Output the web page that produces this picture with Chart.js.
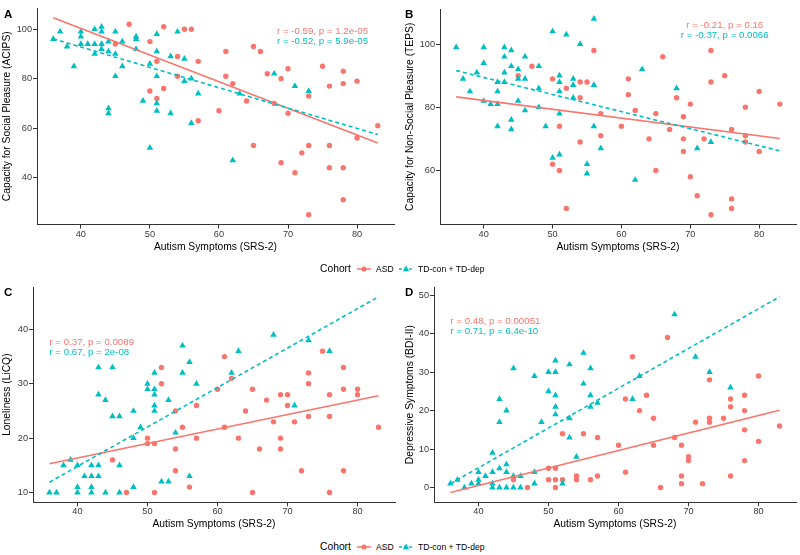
<!DOCTYPE html>
<html>
<head>
<meta charset="utf-8">
<script src="https://cdn.jsdelivr.net/npm/chart.js@4.4.0/dist/chart.umd.min.js"></script>
<style>
  body { margin: 0; background: #fff; width: 800px; height: 555px; position: relative; overflow: hidden; font-family: "Liberation Sans", Arial, sans-serif; }
  .panel { position: absolute; }
  .tag { position: absolute; font-weight: bold; font-size: 11.5px; line-height: 12px; color: #000; }
  .legend { position: absolute; left: 0; width: 800px; height: 14px; }
  .legend span, .legend svg { position: absolute; top: 0; }
  .legend .ttl { font-size: 10.3px; line-height: 14px; color: #000; }
  .legend .lab { font-size: 8.6px; line-height: 14px; color: #000; }
</style>
</head>
<body>
<div class="panel" style="left:0;top:0"><canvas id="chartA" width="400" height="258"></canvas></div>
<div class="panel" style="left:400px;top:0"><canvas id="chartB" width="400" height="258"></canvas></div>
<div class="panel" style="left:0;top:275px"><canvas id="chartC" width="400" height="260"></canvas></div>
<div class="panel" style="left:400px;top:275px"><canvas id="chartD" width="400" height="260"></canvas></div>

<div class="tag" style="left:4px;top:8px">A</div>
<div class="tag" style="left:405px;top:8px">B</div>
<div class="tag" style="left:4px;top:286px">C</div>
<div class="tag" style="left:405px;top:286px">D</div>

<div class="legend" style="top:262px">
  <span class="ttl" style="left:320px">Cohort</span>
  <svg style="left:357px" width="14" height="14"><line x1="0" y1="7" x2="14" y2="7" stroke="#F8766D" stroke-width="1.5"/><circle cx="7" cy="7" r="2.6" fill="#F8766D"/></svg>
  <span class="lab" style="left:376px">ASD</span>
  <svg style="left:399px" width="14" height="14"><line x1="0" y1="7" x2="14" y2="7" stroke="#00BFC4" stroke-width="1.5" stroke-dasharray="3,2"/><polygon points="7,3.6 10.2,9.2 3.8,9.2" fill="#00BFC4"/></svg>
  <span class="lab" style="left:418px">TD-con + TD-dep</span>
</div>
<div class="legend" style="top:540px">
  <span class="ttl" style="left:320px">Cohort</span>
  <svg style="left:357px" width="14" height="14"><line x1="0" y1="7" x2="14" y2="7" stroke="#F8766D" stroke-width="1.5"/><circle cx="7" cy="7" r="2.6" fill="#F8766D"/></svg>
  <span class="lab" style="left:376px">ASD</span>
  <svg style="left:399px" width="14" height="14"><line x1="0" y1="7" x2="14" y2="7" stroke="#00BFC4" stroke-width="1.5" stroke-dasharray="3,2"/><polygon points="7,3.6 10.2,9.2 3.8,9.2" fill="#00BFC4"/></svg>
  <span class="lab" style="left:418px">TD-con + TD-dep</span>
</div>

<script>
// colores de ggplot
const ASD_COL = '#F8766D';
const TD_COL = '#00BFC4';

const xTicks = [40, 50, 60, 70, 80];
const fitX = [36, 83];

// A - ACIPS
const asdXA = [45,47,50,50,51,51,52,52,54,54,55,56,57,57,60,61,61,62,64,65,65,66,67,68,69,69,70,70,71,72,73,73,73,75,76,76,76,78,78,78,78,80,80,83];
const asdYA = [94,102,95,75,87,72,101,76,89,81,100,100,87,63,67,91,81,78,71,93,53,91,82,70,80,46,84,66,42,50,73,53,25,85,77,53,44,83,78,44,31,79,56,61];
const tdXA = [36,37,38,39,40,40,40,41,42,42,42,43,43,43,43,44,44,44,44,45,45,45,46,46,48,48,48,49,50,50,51,51,51,51,51,53,53,54,55,55,56,56,57,62,63,68,71,73];
const tdYA = [96,99,93,85,99,97,94,94,100,94,90,101,99,94,92,95,91,68,66,99,90,81,95,85,97,96,92,71,86,52,98,91,81,70,67,89,66,99,88,79,62,80,74,47,74,82,77,75];
const fitAsdA = [104.6, 54.0];
const fitTdA = [96.1, 57.4];
const yTicksA = [40, 60, 80, 100];
const corA = ['r = -0.59, p = 1.2e-05', 'r = -0.52, p = 5.9e-05'];

// B - TEPS
const asdXB = [45,47,50,50,51,51,52,52,54,54,54,55,56,57,57,60,61,61,62,64,65,65,66,67,68,69,69,69,70,70,71,72,73,73,73,75,76,76,76,78,78,78,80,80,83];
const asdYB = [90,93,89,62,74,60,86,48,88,83,69,88,98,78,71,74,89,84,79,70,78,60,96,73,83,77,70,66,81,58,52,70,98,88,46,90,73,51,48,80,71,69,85,66,81];
const tdXB = [36,37,38,39,40,40,40,41,42,42,42,42,43,43,43,43,44,44,44,44,45,45,45,46,46,46,48,48,48,49,50,50,51,51,51,51,51,52,53,53,53,54,55,55,56,56,56,57,62,63,68,71,73];
const tdYB = [99,89,85,91,99,94,82,81,88,85,81,74,99,96,91,88,98,93,76,73,92,89,82,96,89,79,93,86,80,74,104,64,90,88,85,78,65,103,89,87,83,100,62,59,108,87,74,67,57,92,86,67,69];
const fitAsdB = [83.3, 70.1];
const fitTdB = [91.6, 66.2];
const yTicksB = [60, 80, 100];
const corB = ['r = -0.21, p = 0.16', 'r = -0.37, p = 0.0066'];

// C - LiCQ
const asdXC = [45,47,50,50,51,51,52,52,54,54,54,55,56,57,57,60,61,61,62,63,64,65,65,66,67,68,69,69,69,70,70,71,72,73,73,73,75,76,76,76,78,78,78,80,80,83];
const asdYC = [16,10,20,19,19,10,33,30,25,18,14,22,11,26,20,29,35,22,31,20,25,29,10,18,27,23,28,20,18,28,26,23,14,32,30,24,36,28,24,10,33,29,14,29,28,22];
const tdXC = [36,37,38,39,40,40,40,41,42,42,42,42,43,43,43,43,44,44,45,45,46,46,46,48,48,48,49,50,50,51,51,51,51,51,52,53,53,54,55,55,56,56,57,62,63,68,71,73,76];
const tdYC = [10,10,15,16,15,11,10,13,15,13,11,10,33,28,15,13,27,10,33,24,24,15,10,25,20,11,22,30,29,32,29,28,26,25,12,27,12,21,37,32,34,13,30,32,36,39,26,38,36];
const fitAsdC = [15.3, 27.8];
const fitTdC = [11.9, 46.0];
const yTicksC = [10, 20, 30, 40];
const corC = ['r = 0.37, p = 0.0089', 'r = 0.67, p = 2e-08'];

// D - BDI-II
const asdXD = [45,47,50,50,51,51,51,52,52,54,54,55,56,57,57,60,61,61,62,63,64,65,65,66,67,68,69,69,69,70,70,71,72,73,73,73,75,76,76,76,78,78,78,78,80,80,83];
const asdYD = [2,0,5,2,5,2,0,14,2,3,2,14,2,13,3,11,23,4,34,20,24,18,11,0,39,13,11,3,1,8,7,17,1,28,18,17,18,23,21,3,24,20,15,7,29,12,16];
const tdXD = [36,37,38,39,40,40,40,41,42,42,42,42,43,43,43,43,44,44,44,44,45,45,45,46,46,48,48,48,49,50,50,51,51,51,51,51,52,53,53,53,54,55,55,56,56,56,57,62,63,68,71,73,76];
const tdYD = [1,2,0,1,4,2,1,3,9,4,1,0,23,17,5,0,20,6,4,0,31,3,0,3,0,29,4,1,17,30,25,33,30,24,21,19,1,32,18,13,8,35,27,31,24,21,22,23,29,45,34,30,26];
const fitAsdD = [-1.3, 20.1];
const fitTdD = [1.0, 49.6];
const yTicksD = [0, 10, 20, 30, 40, 50];
const corD = ['r = 0.48, p = 0.00051', 'r = 0.71, p = 6.4e-10'];

Chart.defaults.font.family = '"Liberation Sans", Arial, sans-serif';

function pts(xs, ys) {
    return xs.map((x, i) => ({ x: x, y: ys[i] }));
}

// rango con 5% de expansion como ggplot
function rango(vals) {
    const lo = Math.min(...vals);
    const hi = Math.max(...vals);
    const pad = (hi - lo) * 0.05;
    return [lo - pad, hi + pad];
}

function panel(id, p) {
    const allX = p.asdX.concat(p.tdX, fitX);
    const allY = p.asdY.concat(p.tdY, p.fitAsd, p.fitTd);
    const xr = rango(allX);
    const yr = rango(allY);

    const corPlugin = {
        id: 'cor' + id,
        afterDatasetsDraw(chart) {
            const ctx = chart.ctx;
            ctx.save();
            ctx.font = '9.7px "Liberation Sans", Arial, sans-serif';
            ctx.textAlign = p.corAlign;
            ctx.textBaseline = 'middle';
            const px = chart.scales.x.getPixelForValue(p.corX);
            [ASD_COL, TD_COL].forEach((col, i) => {
                ctx.fillStyle = col;
                ctx.fillText(p.cor[i], px, chart.scales.y.getPixelForValue(p.corY[i]));
            });
            ctx.restore();
        }
    };

    return new Chart(document.getElementById(id), {
        type: 'scatter',
        data: {
            datasets: [{
                label: 'ASD',
                data: pts(p.asdX, p.asdY),
                pointStyle: 'circle',
                pointRadius: 2.7,
                backgroundColor: ASD_COL,
                borderWidth: 0,
                order: 3
            }, {
                label: 'TD-con + TD-dep',
                data: pts(p.tdX, p.tdY),
                pointStyle: 'triangle',
                pointRadius: 3.8,
                backgroundColor: TD_COL,
                borderWidth: 0,
                order: 2
            }, {
                label: 'ASD fit',
                data: pts(fitX, p.fitAsd),
                showLine: true,
                borderColor: ASD_COL,
                borderWidth: 1.6,
                pointRadius: 0,
                order: 1
            }, {
                label: 'TD fit',
                data: pts(fitX, p.fitTd),
                showLine: true,
                borderColor: TD_COL,
                borderWidth: 1.6,
                borderDash: [4, 3],
                pointRadius: 0,
                order: 0
            }]
        },
        options: {
            responsive: false,
            animation: false,
            devicePixelRatio: 1,
            layout: { padding: { left: 0, top: p.top, right: p.right, bottom: 0 } },
            plugins: { legend: { display: false }, tooltip: { enabled: false } },
            scales: {
                x: {
                    type: 'linear',
                    min: xr[0],
                    max: xr[1],
                    afterBuildTicks: s => { s.ticks = xTicks.map(v => ({ value: v })); },
                    afterFit: s => { s.height = p.xh; },
                    grid: { drawOnChartArea: false, drawTicks: true, tickLength: 4, color: '#333' },
                    border: { display: true, color: '#333', width: 1 },
                    ticks: { font: { size: 9.2 }, color: '#3a3a3a', padding: 0, maxRotation: 0, autoSkip: false },
                    title: { display: true, text: 'Autism Symptoms (SRS-2)', color: '#000', font: { size: 10.3 }, padding: { top: 0, bottom: 5 } }
                },
                y: {
                    type: 'linear',
                    min: yr[0],
                    max: yr[1],
                    afterBuildTicks: s => { s.ticks = p.yTicks.map(v => ({ value: v })); },
                    afterFit: s => { s.width = p.yw; },
                    grid: { drawOnChartArea: false, drawTicks: true, tickLength: 4, color: '#333' },
                    border: { display: true, color: '#333', width: 1 },
                    ticks: { font: { size: 9.2 }, color: '#3a3a3a', padding: 1, autoSkip: false },
                    title: { display: true, text: p.yTitle, color: '#000', font: { size: 10.3 }, padding: { top: p.ytPad, bottom: 0 } }
                }
            }
        },
        plugins: [corPlugin]
    });
}

panel('chartA', {
    asdX: asdXA, asdY: asdYA, tdX: tdXA, tdY: tdYA, fitAsd: fitAsdA, fitTd: fitTdA,
    yTicks: yTicksA, yTitle: 'Capacity for Social Pleasure (ACIPS)',
    cor: corA, corX: 75, corY: [99.2, 95.1], corAlign: 'center',
    top: 8, right: 6, yw: 37, xh: 33.5, ytPad: 1
});
panel('chartB', {
    asdX: asdXB, asdY: asdYB, tdX: tdXB, tdY: tdYB, fitAsd: fitAsdB, fitTd: fitTdB,
    yTicks: yTicksB, yTitle: 'Capacity for Non-Social Pleasure (TEPS)',
    cor: corB, corX: 75, corY: [106.0, 102.9], corAlign: 'center',
    top: 9, right: 3, yw: 40, xh: 33.5, ytPad: 4
});
panel('chartC', {
    asdX: asdXC, asdY: asdYC, tdX: tdXC, tdY: tdYC, fitAsd: fitAsdC, fitTd: fitTdC,
    yTicks: yTicksC, yTitle: 'Loneliness (LiCQ)',
    cor: corC, corX: 36, corY: [37.7, 35.8], corAlign: 'left',
    top: 12, right: 5, yw: 33, xh: 32.7, ytPad: 1
});
panel('chartD', {
    asdX: asdXD, asdY: asdYD, tdX: tdXD, tdY: tdYD, fitAsd: fitAsdD, fitTd: fitTdD,
    yTicks: yTicksD, yTitle: 'Depressive Symptoms (BDI-II)',
    cor: corD, corX: 36, corY: [43.3, 40.7], corAlign: 'left',
    top: 12, right: 3, yw: 34, xh: 32.7, ytPad: 4
});
</script>
</body>
</html>
